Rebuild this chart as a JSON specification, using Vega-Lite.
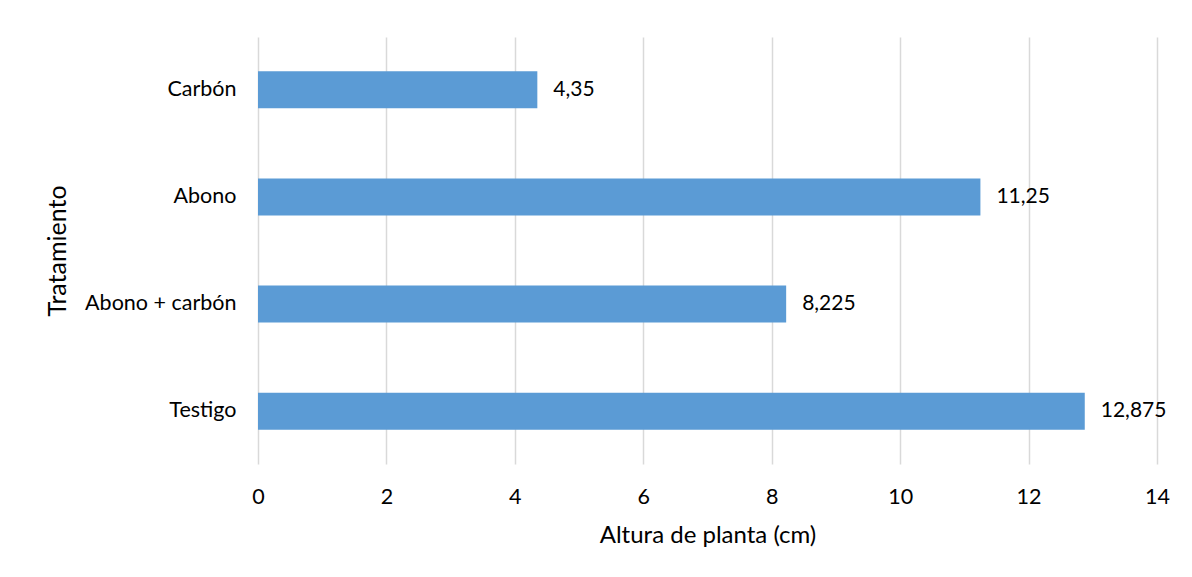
{
  "$schema": "https://vega.github.io/schema/vega-lite/v6.json",
  "autosize": {"type": "none"},
  "width": 899,
  "height": 427,
  "padding": {"left": 258, "top": 37, "right": 36, "bottom": 113},
  "background": "white",
  "config": {
    "locale": {"number": {"decimal": ",", "thousands": ".", "grouping": [3], "currency": ["", " €"]}},
    "view": {"stroke": null},
    "font": "Lato",
    "axis": {"labelFont": "Lato", "titleFont": "Lato", "labelColor": "#000000", "titleColor": "#000000", "titleFontWeight": "normal"}
  },
  "data": {
    "values": [
      {"tratamiento": "Carbón", "altura": 4.35},
      {"tratamiento": "Abono ", "altura": 11.25},
      {"tratamiento": "Abono + carbón", "altura": 8.225},
      {"tratamiento": "Testigo", "altura": 12.875}
    ]
  },
  "encoding": {
    "y": {
      "field": "tratamiento",
      "type": "nominal",
      "sort": null,
      "scale": {"paddingInner": 0.655, "paddingOuter": 0.32},
      "axis": {
        "title": "Tratamiento",
        "titleFontSize": 25,
        "titlePadding": 14,
        "labelFontSize": 21.5,
        "labelPadding": 22,
        "ticks": false,
        "domain": false
      }
    },
    "x": {
      "field": "altura",
      "type": "quantitative",
      "scale": {"domain": [0, 14], "nice": false},
      "axis": {
        "title": "Altura de planta (cm)",
        "titleFontSize": 24,
        "titlePadding": 16,
        "labelFontSize": 21.5,
        "labelPadding": 22,
        "labelFlush": false,
        "values": [0, 2, 4, 6, 8, 10, 12, 14],
        "ticks": false,
        "domain": false,
        "grid": true,
        "gridColor": "#d9d9d9",
        "gridWidth": 1.5
      }
    }
  },
  "layer": [
    {"mark": {"type": "bar", "color": "#5b9bd5"}},
    {
      "mark": {"type": "text", "align": "left", "baseline": "middle", "dx": 16, "fontSize": 21, "font": "Lato", "color": "#000000"},
      "encoding": {"text": {"field": "altura", "type": "quantitative", "format": "~g"}}
    }
  ]
}
